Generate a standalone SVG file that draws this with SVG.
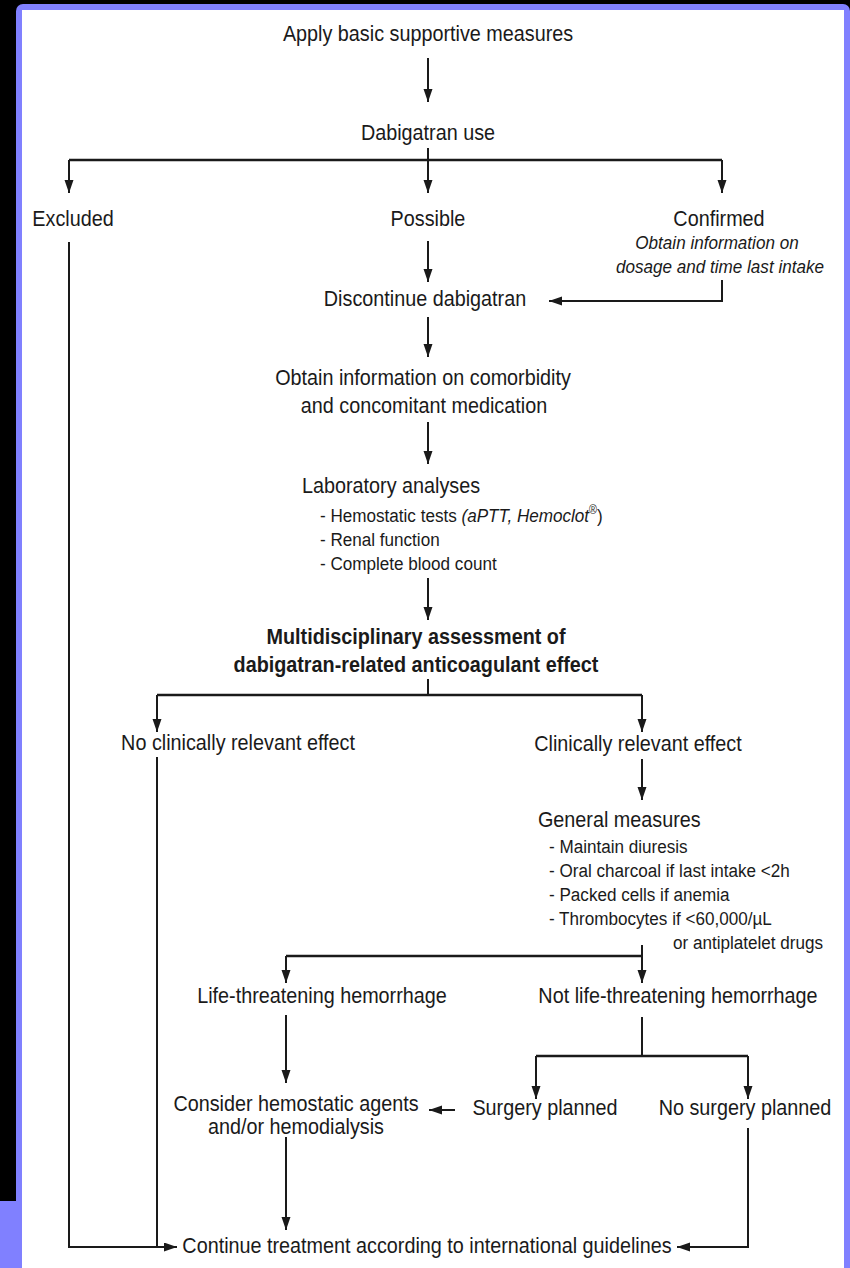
<svg xmlns="http://www.w3.org/2000/svg" width="850" height="1268" viewBox="0 0 850 1268">
<style>
text{font-family:"Liberation Sans",Arial,Helvetica,sans-serif;fill:#1a1a1a;font-size:22px;transform-box:fill-box;transform-origin:left center;transform:scale(0.9,1)}
text.c{text-anchor:middle;transform-origin:center}
.s{font-size:19px}
.i{font-style:italic}
.b{font-weight:bold}
.ln{fill:none;stroke:#1a1a1a;stroke-width:2}
.h{stroke-width:2.5}
.ar{marker-end:url(#ah)}
</style>
<defs>
<marker id="ah" markerUnits="userSpaceOnUse" markerWidth="14" markerHeight="10" refX="13" refY="4.5" orient="auto">
<path d="M0,0 L13,4.5 L0,9 z" fill="#1a1a1a"/>
</marker>
</defs>
<g id="frame">
<rect x="0" y="0" width="850" height="1268" fill="#000"/>
<rect x="16" y="4" width="834" height="1280" rx="7" fill="#8080ff"/>
<rect x="0" y="1201" width="22" height="67" fill="#8080ff"/>
<rect x="22" y="10" width="822" height="1258" fill="#fff"/>
</g>
<g id="connectors">
<path class="ln ar" d="M428,58 V102"/>
<path class="ln" d="M428,148 V160"/>
<path class="ln h" d="M69,160 H722"/>
<path class="ln ar" d="M69,160 V193"/>
<path class="ln ar" d="M428,160 V193"/>
<path class="ln ar" d="M722,160 V193"/>
<path class="ln ar" d="M428,241 V282"/>
<path class="ln ar" d="M722,280 V301 H549"/>
<path class="ln ar" d="M428,317 V357"/>
<path class="ln ar" d="M428,422 V464"/>
<path class="ln ar" d="M428,578 V620"/>
<path class="ln" d="M428,679 V695"/>
<path class="ln h" d="M157,695 H642"/>
<path class="ln ar" d="M157,695 V732"/>
<path class="ln ar" d="M642,695 V732"/>
<path class="ln ar" d="M642,759 V800"/>
<path class="ln" d="M642,945 V956"/>
<path class="ln h" d="M286,956 H642"/>
<path class="ln ar" d="M286,956 V983"/>
<path class="ln ar" d="M642,956 V983"/>
<path class="ln ar" d="M286,1015 V1083"/>
<path class="ln" d="M642,1017 V1056"/>
<path class="ln h" d="M536,1056 H748"/>
<path class="ln ar" d="M536,1056 V1099"/>
<path class="ln ar" d="M748,1056 V1099"/>
<path class="ln ar" d="M455,1110 H429"/>
<path class="ln ar" d="M286,1137 V1230"/>
<path class="ln ar" d="M748,1128 V1247 H677"/>
<path class="ln ar" d="M69,242 V1247 H177"/>
<path class="ln" d="M157,757 V1247"/>
</g>
<g id="n-apply"><text class="c" x="428" y="41">Apply basic supportive measures</text></g>
<g id="n-dabigatran"><text class="c" x="428" y="140">Dabigatran use</text></g>
<g id="n-excluded"><text class="c" x="73" y="226">Excluded</text></g>
<g id="n-possible"><text class="c" x="428" y="226">Possible</text></g>
<g id="n-confirmed">
<text class="c" x="719" y="226">Confirmed</text>
<text class="c s i" x="717" y="249">Obtain information on</text>
<text class="c s i" x="720" y="273">dosage and time last intake</text>
</g>
<g id="n-discontinue"><text class="c" x="425" y="306">Discontinue dabigatran</text></g>
<g id="n-obtain">
<text class="c" x="423" y="385">Obtain information on comorbidity</text>
<text class="c" x="424" y="413">and concomitant medication</text>
</g>
<g id="n-lab">
<text x="302" y="493">Laboratory analyses</text>
<text class="s" x="320" y="522">- Hemostatic tests <tspan class="i">(aPTT, Hemoclot</tspan><tspan font-size="12" dy="-8">®</tspan><tspan dy="8">)</tspan></text>
<text class="s" x="320" y="546">- Renal function</text>
<text class="s" x="320" y="570">- Complete blood count</text>
</g>
<g id="n-multi">
<text class="c b" x="416" y="644">Multidisciplinary assessment of</text>
<text class="c b" x="416" y="672">dabigatran-related anticoagulant effect</text>
</g>
<g id="n-noeffect"><text class="c" x="238" y="750">No clinically relevant effect</text></g>
<g id="n-effect"><text class="c" x="638" y="751">Clinically relevant effect</text></g>
<g id="n-general">
<text x="538" y="827">General measures</text>
<text class="s" x="549" y="853">- Maintain diuresis</text>
<text class="s" x="549" y="877">- Oral charcoal if last intake &lt;2h</text>
<text class="s" x="549" y="901">- Packed cells if anemia</text>
<text class="s" x="549" y="925">- Thrombocytes if &lt;60,000/µL</text>
<text class="s" x="673" y="949">or antiplatelet drugs</text>
</g>
<g id="n-life"><text class="c" x="322" y="1003">Life-threatening hemorrhage</text></g>
<g id="n-notlife"><text class="c" x="678" y="1003">Not life-threatening hemorrhage</text></g>
<g id="n-consider">
<text class="c" x="296" y="1111">Consider hemostatic agents</text>
<text class="c" x="296" y="1134">and/or hemodialysis</text>
</g>
<g id="n-surgery"><text class="c" x="545" y="1115">Surgery planned</text></g>
<g id="n-nosurgery"><text class="c" x="745" y="1115">No surgery planned</text></g>
<g id="n-continue"><text class="c" x="427" y="1253">Continue treatment according to international guidelines</text></g>
</svg>
